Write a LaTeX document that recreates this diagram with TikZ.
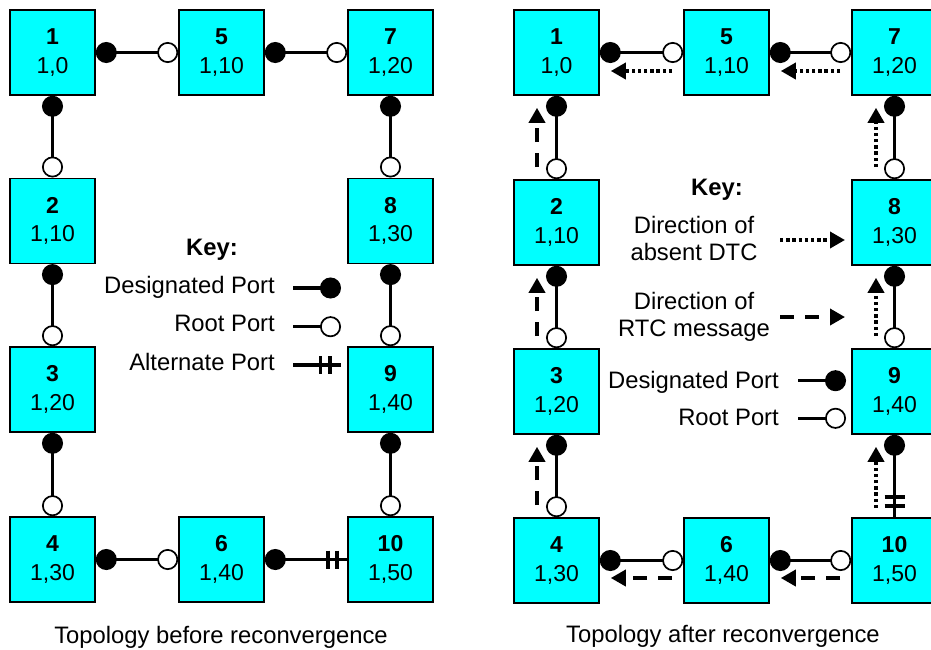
\documentclass[tikz,border=0pt]{standalone}
\usepackage{fontspec}
\setmainfont{Liberation Sans}
\usetikzlibrary{arrows.meta}

\definecolor{swcyan}{RGB}{0,255,255}

\tikzset{
  sw/.style={draw=black, fill=swcyan, line width=1.6pt,
    minimum width=85pt, minimum height=85pt, inner sep=0pt,
    align=center, font=\fontsize{23}{28.5}\selectfont},
  txt/.style={font=\fontsize{23.8}{27.2}\selectfont, inner sep=0pt},
  dp/.tip={Circle[length=21pt]},
  rp/.tip={Circle[open, fill=white, line width=1.7pt, length=21pt]},
  link/.style={line width=3.5pt},
  altbar/.style={line width=3.8pt},
  head/.tip={Triangle[length=15pt, width=16pt]},
  dtc/.style={line width=3.6pt, dash pattern=on 3.4pt off 2.8pt, -head},
  rtc/.style={line width=3.6pt, dash pattern=on 14pt off 11pt, -head},
}

\begin{document}
\begin{tikzpicture}[x=1pt, y=-1pt]
\useasboundingbox (0,0) rectangle (931,649);
\clip (0,0) rectangle (931,649);

% ---------- topology before reconvergence ----------
\node[sw] (L1)  at (52.5,52.5)   {\textbf{1}\\1,0};
\node[sw] (L5)  at (221.5,52.5)  {\textbf{5}\\1,10};
\node[sw] (L7)  at (390.5,52.5)  {\textbf{7}\\1,20};
\node[sw] (L2)  at (52.5,220.8)  {\textbf{2}\\1,10};
\node[sw] (L8)  at (390.5,220.8) {\textbf{8}\\1,30};
\node[sw] (L3)  at (52.5,389.5)  {\textbf{3}\\1,20};
\node[sw] (L9)  at (390.5,389.5) {\textbf{9}\\1,40};
\node[sw] (L4)  at (52.5,559.5)  {\textbf{4}\\1,30};
\node[sw] (L6)  at (221.5,559.5) {\textbf{6}\\1,40};
\node[sw] (L10) at (390.5,559.5) {\textbf{10}\\1,50};

\draw[link, dp-rp] (L1.east) -- (L5.west);
\draw[link, dp-rp] (L5.east) -- (L7.west);
\draw[link, dp-rp] (L1.south) -- (L2.north);
\draw[link, dp-rp] (L2.south) -- (L3.north);
\draw[link, dp-rp] (L3.south) -- (L4.north);
\draw[link, dp-rp] (L7.south) -- (L8.north);
\draw[link, dp-rp] (L8.south) -- (L9.north);
\draw[link, dp-rp] (L9.south) -- (L10.north);
\draw[link, dp-rp] (L4.east) -- (L6.west);
\draw[link, dp-]   (L6.east) -- (L10.west);
\draw[altbar] ([shift={(-10,-9)}]L10.west) -- ([shift={(-10,9)}]L10.west);
\draw[altbar] ([shift={(-19.5,-9)}]L10.west) -- ([shift={(-19.5,9)}]L10.west);

% key
\node[txt, anchor=base, font=\fontsize{23.8}{27.2}\selectfont\bfseries] (keyL) at (212,255) {Key:};
\node[txt, anchor=base east] (kdpL) at (275,293.3) {Designated Port};
\node[txt, anchor=base east] (krpL) at (275,331.7) {Root Port};
\node[txt, anchor=base east] (kapL) at (275,370)   {Alternate Port};
\coordinate (kdpL1) at (293,288);   \coordinate (kdpL2) at (341,288);
\coordinate (krpL1) at (293,326.7); \coordinate (krpL2) at (341,326.7);
\coordinate (kapL1) at (293,365);   \coordinate (kapL2) at (341,365);
\draw[link, -dp] (kdpL1) -- (kdpL2);
\draw[link, -rp] (krpL1) -- (krpL2);
\draw[link] (kapL1) -- (kapL2);
\draw[altbar] ([shift={(-11,-9)}]kapL2) -- ([shift={(-11,9)}]kapL2);
\draw[altbar] ([shift={(-20.5,-9)}]kapL2) -- ([shift={(-20.5,9)}]kapL2);

\node[txt, anchor=base] (capL) at (221,643.3) {Topology before reconvergence};

% ---------- topology after reconvergence ----------
\node[sw] (R1)  at (556.5,52.5)  {\textbf{1}\\1,0};
\node[sw] (R5)  at (726.5,52.5)  {\textbf{5}\\1,10};
\node[sw] (R7)  at (894.5,52.5)  {\textbf{7}\\1,20};
\node[sw] (R2)  at (556.5,222.5) {\textbf{2}\\1,10};
\node[sw] (R8)  at (894.5,222.5) {\textbf{8}\\1,30};
\node[sw] (R3)  at (556.5,391.5) {\textbf{3}\\1,20};
\node[sw] (R9)  at (894.5,391.5) {\textbf{9}\\1,40};
\node[sw] (R4)  at (556.5,560.5) {\textbf{4}\\1,30};
\node[sw] (R6)  at (726.5,560.5) {\textbf{6}\\1,40};
\node[sw] (R10) at (894.5,560.5) {\textbf{10}\\1,50};

\draw[link, dp-rp] (R1.east) -- (R5.west);
\draw[link, dp-rp] (R5.east) -- (R7.west);
\draw[link, dp-rp] (R1.south) -- (R2.north);
\draw[link, dp-rp] (R2.south) -- (R3.north);
\draw[link, dp-rp] (R3.south) -- (R4.north);
\draw[link, dp-rp] (R7.south) -- (R8.north);
\draw[link, dp-rp] (R8.south) -- (R9.north);
\draw[link, dp-]   (R9.south) -- (R10.north);
\draw[link, dp-rp] (R4.east) -- (R6.west);
\draw[link, dp-rp] (R6.east) -- (R10.west);
\draw[altbar] ([shift={(-10,-11)}]R10.north) -- ([shift={(10,-11)}]R10.north);
\draw[altbar] ([shift={(-10,-20)}]R10.north) -- ([shift={(10,-20)}]R10.north);

% absent DTC along the top and down the right column
\draw[dtc] ([shift={(-11,18.5)}]R5.west) -- ([shift={(11,18.5)}]R1.east);
\draw[dtc] ([shift={(-11,18.5)}]R7.west) -- ([shift={(11,18.5)}]R5.east);
\draw[dtc] ([shift={(-18.5,-12)}]R8.north) -- ([shift={(-18.5,12)}]R7.south);
\draw[dtc] ([shift={(-18.5,-12)}]R9.north) -- ([shift={(-18.5,12)}]R8.south);
\draw[dtc] ([shift={(-18.5,-9)}]R10.north) -- ([shift={(-18.5,12)}]R9.south);

% RTC messages along the bottom and up the left column
\draw[rtc] ([shift={(-11,17.5)}]R10.west) -- ([shift={(11,17.5)}]R6.east);
\draw[rtc] ([shift={(-11,17.5)}]R6.west) -- ([shift={(11,17.5)}]R4.east);
\draw[rtc] ([shift={(-19.5,-12)}]R4.north) -- ([shift={(-19.5,12)}]R3.south);
\draw[rtc] ([shift={(-19.5,-12)}]R3.north) -- ([shift={(-19.5,12)}]R2.south);
\draw[rtc] ([shift={(-19.5,-12)}]R2.north) -- ([shift={(-19.5,12)}]R1.south);

% key
\node[txt, anchor=base, font=\fontsize{23.8}{27.2}\selectfont\bfseries] (keyR) at (717,195) {Key:};
\node[txt, align=center] (kdtc) at (694,238.2) {Direction of\\absent DTC};
\node[txt, align=center] (krtc) at (694,316.5) {Direction of\\RTC message};
\coordinate (kdtc1) at (780,240);   \coordinate (kdtc2) at (845,240);
\coordinate (krtc1) at (780,317);   \coordinate (krtc2) at (845,317);
\draw[dtc] (kdtc1) -- (kdtc2);
\draw[rtc] (krtc1) -- (krtc2);
\node[txt, anchor=base east] (kdpR) at (779,388.3) {Designated Port};
\node[txt, anchor=base east] (krpR) at (779,425)   {Root Port};
\coordinate (kdpR1) at (798,380.7); \coordinate (kdpR2) at (846,380.7);
\coordinate (krpR1) at (798,418.3); \coordinate (krpR2) at (846,418.3);
\draw[link, -dp] (kdpR1) -- (kdpR2);
\draw[link, -rp] (krpR1) -- (krpR2);

\node[txt, anchor=base] (capR) at (723,642.7) {Topology after reconvergence};
\end{tikzpicture}
\end{document}
